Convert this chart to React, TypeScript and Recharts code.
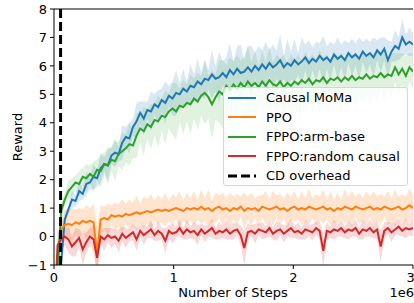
import { ComposedChart, Line, Area, XAxis, YAxis, ReferenceLine } from "recharts";

// one sample every 30k env steps, 0 .. 3e6
const STEP_INTERVAL = 30000;
const X_TICKS = [0, 1000000, 2000000, 3000000];
const Y_TICKS = [-1, 0, 1, 2, 3, 4, 5, 6, 7, 8];
const CD_OVERHEAD_STEP = 55000;

const causalMoma = [
  -4, -2.5, -0.9, 0.6, 0.95, 1.3, 1.25, 1.6, 1.5, 1.85,
  1.9, 2.1, 2.05, 2.4, 2.55, 2.5, 2.85, 2.95, 2.9, 3.3,
  3.5, 3.45, 3.85, 4.05, 4.35, 4.15, 4.45, 4.4, 4.65, 4.55,
  4.8, 4.7, 4.95, 4.85, 5.05, 5.0, 5.2, 5.1, 5.3, 5.25,
  5.45, 5.35, 5.55, 5.5, 5.7, 5.55, 5.6, 5.75, 5.6, 5.85,
  5.7, 5.9, 5.75, 5.8, 5.95, 5.8, 6.0, 5.85, 6.05, 5.9,
  6.1, 5.95, 6.05, 6.2, 5.95, 6.1, 6.0, 6.2, 6.05, 6.15,
  6.3, 6.1, 6.25, 6.15, 6.35, 6.2, 6.3, 6.15, 6.4, 6.25,
  6.35, 6.2, 6.45, 6.3, 6.4, 6.25, 6.5, 6.35, 6.45, 6.3,
  6.55, 6.4, 6.6, 6.2, 6.5, 6.7, 6.6, 7.0, 6.75, 6.85,
  6.75,
];
const causalMomaSpread = [
  0.3, 0.2, 0.3, 0.25, 0.15, 0.3, 0.2, 0.35, 0.2, 0.4,
  0.25, 0.45, 0.3, 0.5, 0.25, 0.55, 0.3, 0.5, 0.25, 0.6,
  0.35, 0.55, 0.3, 0.65, 0.4, 0.6, 0.3, 0.7, 0.35, 0.6,
  0.4, 0.75, 0.35, 0.6, 0.8, 0.4, 0.7, 0.35, 0.75, 0.45,
  0.8, 0.4, 0.7, 0.35, 0.85, 0.45, 0.9, 0.4, 0.7, 0.95,
  0.45, 0.8, 1.0, 0.4, 0.75, 0.9, 0.45, 0.85, 0.5, 0.95,
  0.45, 0.8, 0.5, 0.9, 0.4, 0.85, 0.5, 0.75, 0.4, 0.85,
  0.45, 0.8, 0.4, 0.7, 0.45, 0.85, 0.4, 0.7, 0.35, 0.75,
  0.4, 0.7, 0.35, 0.65, 0.4, 0.75, 0.35, 0.6, 0.4, 0.7,
  0.35, 0.6, 0.4, 0.7, 0.35, 0.55, 0.4, 0.65, 0.35, 0.5,
  0.4,
];

const ppo = [
  -4, -0.9, 0.25, 0.4, 0.45, 0.4, 0.5, 0.45, 0.55, 0.5,
  0.55, 0.5, -0.6, 0.6, 0.65, 0.6, 0.75, 0.7, 0.75, 0.7,
  0.8, 0.75, 0.8, 0.85, 0.8, 0.85, 0.9, 0.85, 0.9, 0.95,
  0.9, 0.95, 0.9, 0.95, 1.0, 0.95, 0.9, 1.0, 0.95, 1.0,
  0.95, 1.05, 0.95, 1.0, 0.9, 1.0, 1.05, 0.95, 1.0, 0.9,
  1.0, 0.95, 1.05, 0.9, 1.0, 0.95, 1.0, 0.9, 1.05, 1.0,
  0.95, 1.0, 1.05, 0.95, 1.0, 0.9, 1.0, 1.05, 0.95, 1.0,
  0.95, 1.05, 1.0, 0.95, 1.0, 1.05, 0.95, 1.0, 0.9, 1.0,
  0.95, 1.05, 1.0, 0.95, 1.05, 1.0, 0.95, 1.0, 1.05, 0.95,
  1.0, 0.95, 1.05, 1.0, 0.95, 1.0, 1.05, 0.95, 1.0, 1.1,
  1.0,
];
const ppoSpread = [
  0.4, 0.5, 0.4, 0.55, 0.45, 0.6, 0.45, 0.55, 0.4, 0.6,
  0.45, 0.65, 1.0, 0.5, 0.4, 0.55, 0.35, 0.5, 0.4, 0.6,
  0.35, 0.55, 0.4, 0.6, 0.35, 0.55, 0.4, 0.65, 0.35, 0.5,
  0.4, 0.6, 0.35, 0.55, 0.4, 0.65, 0.35, 0.55, 0.4, 0.6,
  0.35, 0.6, 0.4, 0.65, 0.35, 0.55, 0.4, 0.6, 0.35, 0.65,
  0.4, 0.55, 0.35, 0.65, 0.4, 0.6, 0.35, 0.55, 0.4, 0.6,
  0.35, 0.6, 0.4, 0.55, 0.35, 0.65, 0.4, 0.55, 0.35, 0.6,
  0.4, 0.65, 0.35, 0.55, 0.4, 0.6, 0.35, 0.6, 0.4, 0.55,
  0.35, 0.6, 0.4, 0.65, 0.35, 0.55, 0.4, 0.6, 0.35, 0.65,
  0.4, 0.55, 0.35, 0.6, 0.4, 0.65, 0.35, 0.55, 0.4, 0.6,
  0.45,
];

const armBase = [
  -3, -1.2, 0.9, 1.3, 1.6, 1.75, 1.9, 1.85, 2.1, 2.05,
  2.2, 2.1, 2.35, 2.3, 2.55, 2.5, 2.7, 2.65, 2.9, 3.0,
  3.1, 3.25, 3.2, 3.55, 3.8, 3.7, 3.95, 3.85, 4.1, 4.05,
  4.25, 4.2, 4.4, 4.5, 4.4, 4.6, 4.55, 4.7, 4.65, 4.85,
  4.75, 4.95, 5.05, 4.9, 4.65, 4.9, 5.1, 5.0, 5.3, 5.15,
  5.35, 5.2, 5.4, 5.25, 5.45, 5.3, 5.4, 5.25, 5.45, 5.3,
  5.5, 5.35, 5.3, 5.45, 5.25, 5.4, 5.3, 5.45, 5.35, 5.5,
  5.4, 5.55, 5.35, 5.5, 5.45, 5.6, 5.4, 5.55, 5.5, 5.6,
  5.45, 5.6, 5.5, 5.65, 5.5, 5.6, 5.55, 5.7, 5.55, 5.65,
  5.6, 5.75, 5.6, 5.7, 5.65, 5.95, 5.7, 5.9, 5.65, 5.95,
  5.8,
];
const armBaseSpread = [
  0.4, 0.35, 0.3, 0.25, 0.35, 0.3, 0.25, 0.45, 0.3, 0.5,
  0.3, 0.55, 0.35, 0.6, 0.4, 0.65, 0.4, 0.7, 0.45, 0.65,
  0.5, 0.75, 0.45, 0.8, 0.5, 0.85, 0.5, 0.8, 0.55, 0.9,
  0.55, 0.95, 0.6, 0.9, 1.0, 0.6, 0.95, 0.65, 1.05, 0.7,
  1.0, 0.7, 1.1, 0.75, 1.2, 0.8, 1.1, 1.2, 0.75, 1.15,
  0.8, 1.2, 0.75, 1.1, 1.25, 0.8, 1.15, 0.75, 1.1, 0.8,
  1.2, 0.75, 1.1, 0.8, 1.15, 0.7, 1.1, 0.75, 1.05, 0.7,
  1.1, 0.7, 1.05, 0.75, 1.1, 0.7, 1.0, 0.65, 1.05, 0.7,
  1.0, 0.65, 0.95, 0.7, 1.0, 0.6, 0.9, 0.65, 0.95, 0.6,
  0.9, 0.6, 0.85, 0.55, 0.8, 0.5, 0.75, 0.55, 0.7, 0.5,
  0.6,
];

const randomCausal = [
  -3, -0.3, -0.1, 0.0, -0.1, -0.35, -0.2, -0.05, -0.45, -0.2,
  0.0, -0.1, -0.75, 0.0, -0.1, 0.05, -0.05, 0.0, -0.15, 0.1,
  -0.05, 0.05, 0.15, -0.1, 0.2, 0.05, 0.15, 0.25, 0.05, 0.2,
  0.1, -0.15, 0.2, 0.1, 0.15, 0.3, 0.1, 0.25, 0.15, 0.2,
  0.05, 0.25, 0.1, 0.2, 0.3, 0.1, 0.2, 0.15, 0.25, 0.1,
  0.2, 0.25, 0.05, -0.4, 0.15, 0.2, 0.1, 0.25, 0.2, 0.15,
  0.3, 0.1, 0.2, 0.25, 0.1, 0.2, 0.3, 0.15, 0.2, 0.1,
  0.25, 0.2, 0.15, 0.3, 0.2, -0.5, 0.2, 0.15, 0.25, 0.2,
  0.3, 0.15, 0.25, 0.2, 0.3, 0.1, 0.25, 0.2, 0.3, 0.15,
  0.25, -0.35, 0.2, 0.3, 0.15, 0.25, 0.35, 0.2, 0.3, 0.25,
  0.3,
];
const randomCausalSpread = [
  0.4, 0.5, 0.4, 0.3, 0.45, 0.35, 0.5, 0.3, 0.55, 0.35,
  0.3, 0.45, 0.55, 0.25, 0.4, 0.25, 0.35, 0.25, 0.4, 0.25,
  0.35, 0.2, 0.3, 0.4, 0.2, 0.35, 0.2, 0.3, 0.2, 0.35,
  0.2, 0.45, 0.2, 0.35, 0.2, 0.3, 0.2, 0.35, 0.2, 0.3,
  0.35, 0.2, 0.3, 0.2, 0.35, 0.2, 0.3, 0.2, 0.35, 0.2,
  0.3, 0.2, 0.35, 0.6, 0.3, 0.2, 0.35, 0.2, 0.3, 0.2,
  0.3, 0.2, 0.35, 0.2, 0.3, 0.2, 0.35, 0.2, 0.3, 0.2,
  0.35, 0.2, 0.3, 0.2, 0.35, 0.6, 0.3, 0.2, 0.35, 0.2,
  0.3, 0.2, 0.35, 0.2, 0.3, 0.2, 0.35, 0.2, 0.3, 0.2,
  0.35, 0.55, 0.3, 0.2, 0.35, 0.2, 0.3, 0.2, 0.35, 0.2,
  0.3,
];

const SERIES = [
  { key: "moma", name: "Causal MoMa", color: "#1f77b4", mean: causalMoma, spread: causalMomaSpread },
  { key: "ppo", name: "PPO", color: "#ff7f0e", mean: ppo, spread: ppoSpread },
  { key: "arm", name: "FPPO:arm-base", color: "#2ca02c", mean: armBase, spread: armBaseSpread },
  { key: "rand", name: "FPPO:random causal", color: "#d62728", mean: randomCausal, spread: randomCausalSpread },
];
const BAND_OPACITY: Record<string, number> = { moma: 0.17, ppo: 0.2, arm: 0.14, rand: 0.18 };

const data = causalMoma.map((_, i) => {
  const row: Record<string, any> = { step: i * STEP_INTERVAL };
  SERIES.forEach((s) => {
    row[s.key] = s.mean[i];
    row[s.key + "Band"] = [s.mean[i] - s.spread[i], s.mean[i] + s.spread[i]];
  });
  return row;
});

const FONT = "'DejaVu Sans', sans-serif";
const minus = (v: number) => String(v).replace("-", "\u2212");

export default function App() {
  return (
    <div style={{ position: "absolute", left: 0, top: 0, width: 414, height: 303, fontFamily: FONT }}>
      <ComposedChart width={414} height={303} data={data} margin={{ top: 9, right: 1, bottom: 0, left: 0 }}>
        <XAxis
          dataKey="step"
          type="number"
          domain={[0, 3000000]}
          ticks={X_TICKS}
          allowDataOverflow
          tickFormatter={(v: number) => String(v / 1000000)}
          height={38}
          tickSize={4}
          tickMargin={4}
          stroke="#000"
          tick={{ fill: "#000", fontSize: 13, fontFamily: FONT }}
        />
        <YAxis
          type="number"
          domain={[-1, 8]}
          ticks={Y_TICKS}
          interval={0}
          allowDataOverflow
          tickFormatter={minus}
          width={54}
          tickSize={4}
          tickMargin={3}
          stroke="#000"
          tick={{ fill: "#000", fontSize: 13, fontFamily: FONT }}
        />
        <ReferenceLine y={8} stroke="#000" strokeWidth={1} />
        {SERIES.map((s) => (
          <Area
            key={s.key + "Band"}
            dataKey={s.key + "Band"}
            type="linear"
            stroke="none"
            fill={s.color}
            fillOpacity={BAND_OPACITY[s.key]}
            isAnimationActive={false}
          />
        ))}
        {SERIES.map((s) => (
          <Line
            key={s.key}
            dataKey={s.key}
            type="linear"
            stroke={s.color}
            strokeWidth={2}
            dot={false}
            isAnimationActive={false}
          />
        ))}
        <ReferenceLine x={CD_OVERHEAD_STEP} stroke="#000" strokeWidth={3} strokeDasharray="9 4" />
      </ComposedChart>

      {/* axis labels */}
      <div style={{ position: "absolute", left: 233, top: 285, transform: "translateX(-50%)", fontSize: 13, whiteSpace: "nowrap" }}>
        Number of Steps
      </div>
      <div style={{ position: "absolute", right: 0, top: 285, fontSize: 13 }}>1e6</div>
      <div
        style={{
          position: "absolute",
          left: 17,
          top: 137,
          transform: "translate(-50%, -50%) rotate(-90deg)",
          fontSize: 13,
          whiteSpace: "nowrap",
        }}
      >
        Reward
      </div>

      {/* legend */}
      <div
        style={{
          position: "absolute",
          left: 223,
          top: 87,
          width: 183,
          height: 97,
          border: "1px solid #d6d6d6",
          borderRadius: 3,
          background: "rgba(255,255,255,0.8)",
          fontSize: 13,
        }}
      >
        {SERIES.map((s, i) => (
          <div key={s.key} style={{ position: "absolute", left: 4, top: 0.5 + i * 19.5, height: 18, display: "flex", alignItems: "center" }}>
            <svg width={28} height={4}>
              <line x1={0} y1={2} x2={28} y2={2} stroke={s.color} strokeWidth={2} />
            </svg>
            <span style={{ marginLeft: 10, whiteSpace: "nowrap" }}>{s.name}</span>
          </div>
        ))}
        <div style={{ position: "absolute", left: 4, top: 0.5 + 4 * 19.5, height: 18, display: "flex", alignItems: "center" }}>
          <svg width={28} height={4}>
            <line x1={0} y1={2} x2={28} y2={2} stroke="#000" strokeWidth={3} strokeDasharray="9 4" />
          </svg>
          <span style={{ marginLeft: 10, whiteSpace: "nowrap" }}>CD overhead</span>
        </div>
      </div>
    </div>
  );
}
